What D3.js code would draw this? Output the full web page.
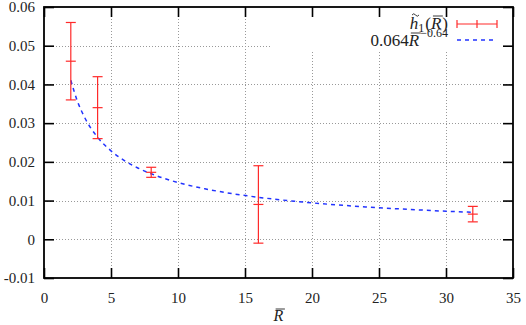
<!DOCTYPE html>
<html>
<head>
    <meta charset="utf-8">
    <title>h1 vs R</title>
    <style>
        body { margin: 0; background: #fff; }
        svg { display: block; }
        svg text { font-family: "Liberation Serif", "DejaVu Serif", serif !important; }
        .grid line { stroke: #999; stroke-width: 1; stroke-dasharray: 1,2; }
    </style>
</head>
<body>
    <script src="https://d3js.org/d3.v7.min.js"></script>
    <script>
        // data
        var rValues = [2, 4, 8, 16, 32];
        var hValues = [0.046, 0.034, 0.0173, 0.009, 0.0065];
        var hErrors = [0.010, 0.008, 0.0013, 0.010, 0.002];

        // fitted curve 0.064 R^-0.64, sampled
        var fitR = [2, 2.5, 3, 4, 5, 6, 7, 8, 10, 12, 14, 16, 20, 24, 28, 32];
        var fitH = [0.04107, 0.03560, 0.03169, 0.02635, 0.02285, 0.02033, 0.01842, 0.01691,
                    0.01466, 0.01305, 0.01182, 0.01085, 0.00941, 0.00837, 0.00758, 0.00696];

        var xTicks = [0, 5, 10, 15, 20, 25, 30, 35];
        var yTicks = [-0.01, 0, 0.01, 0.02, 0.03, 0.04, 0.05, 0.06];
        var yTickLabels = ["-0.01", "0", "0.01", "0.02", "0.03", "0.04", "0.05", "0.06"];

        var width = 526, height = 325;
        var pLeft = 44, pRight = 513, pTop = 7, pBottom = 278;
        var ink = "#222";

        var svg = d3.select("body").append("svg")
            .attr("width", width)
            .attr("height", height);

        var x = d3.scaleLinear().domain([0, 35]).range([pLeft, pRight]);
        var y = d3.scaleLinear().domain([-0.01, 0.06]).range([pBottom, pTop]);

        // grid
        var grid = svg.append("g").attr("class", "grid");
        grid.selectAll(".gx").data(xTicks.slice(1, -1)).enter().append("line")
            .attr("x1", d => Math.round(x(d)) + 0.5).attr("x2", d => Math.round(x(d)) + 0.5)
            .attr("y1", pTop).attr("y2", pBottom);
        grid.selectAll(".gy").data(yTicks.slice(1, -1)).enter().append("line")
            .attr("x1", pLeft).attr("x2", pRight)
            .attr("y1", d => Math.round(y(d)) + 0.5).attr("y2", d => Math.round(y(d)) + 0.5);

        // key area hides the grid
        svg.append("rect")
            .attr("x", 272).attr("y", pTop + 1)
            .attr("width", pRight - 272 - 1).attr("height", 43)
            .attr("fill", "#fff");

        // axes with inward ticks on all sides
        var tickLen = 10;
        svg.append("g")
            .attr("transform", "translate(0," + pBottom + ")")
            .call(d3.axisBottom(x).tickValues(xTicks).tickSize(-tickLen).tickPadding(14))
            .call(g => g.select(".domain").remove());
        svg.append("g")
            .attr("transform", "translate(0," + pTop + ")")
            .call(d3.axisTop(x).tickValues(xTicks).tickSize(-tickLen).tickFormat(""))
            .call(g => g.select(".domain").remove());
        svg.append("g")
            .attr("transform", "translate(" + pLeft + ",0)")
            .call(d3.axisLeft(y).tickValues(yTicks).tickSize(-tickLen).tickPadding(9)
                .tickFormat((d, i) => yTickLabels[i]))
            .call(g => g.select(".domain").remove());
        svg.append("g")
            .attr("transform", "translate(" + pRight + ",0)")
            .call(d3.axisRight(y).tickValues(yTicks).tickSize(-tickLen).tickFormat(""))
            .call(g => g.select(".domain").remove());

        svg.selectAll(".tick line").attr("stroke", "#000").attr("stroke-width", 1.6);
        svg.selectAll(".tick text")
            .attr("font-size", 15)
            .attr("fill", ink);

        svg.append("rect")
            .attr("x", pLeft).attr("y", pTop)
            .attr("width", pRight - pLeft).attr("height", pBottom - pTop)
            .attr("fill", "none").attr("stroke", "#000").attr("stroke-width", 1.8);

        // draw an accent over character i of a text node
        function accent(textSel, i, kind) {
            var node = textSel.node();
            var s = node.getStartPositionOfChar(i);
            var e = node.getEndPositionOfChar(i);
            var ext = node.getExtentOfChar(i);
            var top = ext.y + 2;
            if (kind === "bar") {
                svg.append("line")
                    .attr("x1", s.x + 2).attr("x2", e.x + 1.5)
                    .attr("y1", top).attr("y2", top)
                    .attr("stroke", ink).attr("stroke-width", 0.9);
            } else {
                var cx = (s.x + e.x) / 2 + 1.5;
                svg.append("path")
                    .attr("d", "M" + (cx - 3.5) + "," + (top - 1) +
                        " q1.75,-2.5 3.5,0 t3.5,0")
                    .attr("fill", "none").attr("stroke", ink).attr("stroke-width", 0.9);
            }
        }

        // x label
        var xl = svg.append("text")
            .attr("x", (pLeft + pRight) / 2).attr("y", 321)
            .attr("text-anchor", "middle")
            .attr("font-size", 16).attr("font-style", "italic").attr("fill", ink)
            .text("R");
        accent(xl, 0, "bar");

        // fitted curve
        var fitData = fitR.map((r, i) => [r, fitH[i]]);
        svg.append("path")
            .datum(fitData)
            .attr("fill", "none")
            .attr("stroke", "#2233ff")
            .attr("stroke-width", 1.5)
            .attr("stroke-dasharray", "4,4")
            .attr("d", d3.line().x(d => x(d[0])).y(d => y(d[1])).curve(d3.curveMonotoneX));

        // error bars
        var red = "#ff2a2a";
        var cap = 5;
        var bars = svg.append("g").attr("stroke", red).attr("stroke-width", 1.2);
        rValues.forEach(function(r, i) {
            var cx = x(r);
            var lo = y(hValues[i] - hErrors[i]);
            var hi = y(hValues[i] + hErrors[i]);
            var mid = y(hValues[i]);
            bars.append("line").attr("x1", cx).attr("x2", cx).attr("y1", lo).attr("y2", hi);
            [lo, hi, mid].forEach(function(yy) {
                bars.append("line").attr("x1", cx - cap).attr("x2", cx + cap)
                    .attr("y1", yy).attr("y2", yy);
            });
        });

        // key
        var key = svg.append("g");
        var t1 = key.append("text")
            .attr("x", 448).attr("y", 29)
            .attr("text-anchor", "end")
            .attr("font-size", 17).attr("fill", ink);
        t1.append("tspan").attr("font-style", "italic").text("h");
        t1.append("tspan").attr("font-size", 12).attr("dy", 3).text("1");
        t1.append("tspan").attr("dy", -3).attr("dx", 1).text("(");
        t1.append("tspan").attr("font-style", "italic").text("R");
        t1.append("tspan").attr("dx", 1).text(")");
        accent(t1, 0, "tilde");
        accent(t1, 3, "bar");

        key.append("line").attr("x1", 457).attr("x2", 497).attr("y1", 24).attr("y2", 24)
            .attr("stroke", red).attr("stroke-width", 1.2);
        [457, 477, 497].forEach(function(kx) {
            key.append("line").attr("x1", kx).attr("x2", kx).attr("y1", 20).attr("y2", 28)
                .attr("stroke", red).attr("stroke-width", 1.2);
        });

        var t2 = key.append("text")
            .attr("x", 448).attr("y", 46)
            .attr("text-anchor", "end")
            .attr("font-size", 17).attr("fill", ink);
        t2.append("tspan").text("0.064");
        t2.append("tspan").attr("font-style", "italic").text("R");
        t2.append("tspan").attr("font-size", 12).attr("dy", -9).attr("dx", 1).text("\u22120.64");
        accent(t2, 5, "bar");

        key.append("line").attr("x1", 457).attr("x2", 497).attr("y1", 40).attr("y2", 40)
            .attr("stroke", "#2233ff").attr("stroke-width", 1.5).attr("stroke-dasharray", "4,4");
    </script>
</body>
</html>
